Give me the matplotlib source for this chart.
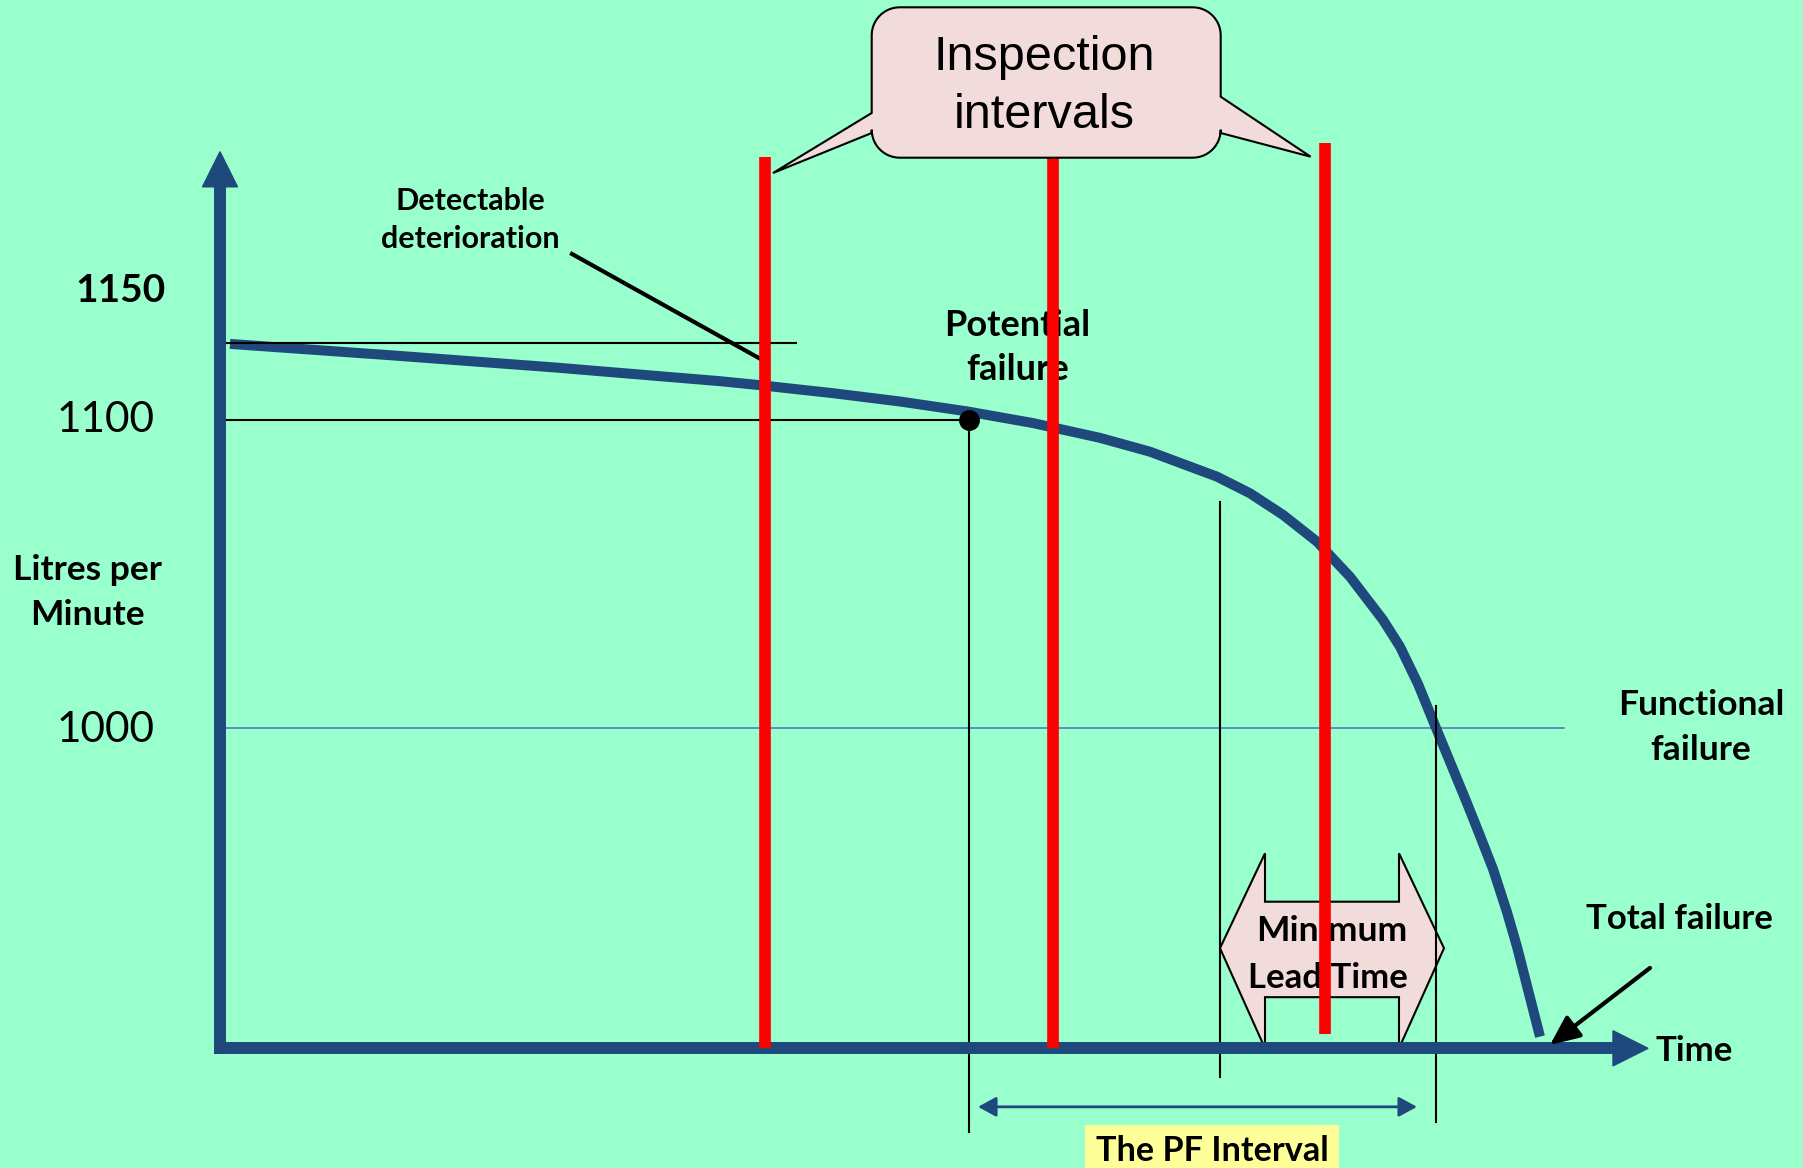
import numpy as np
import matplotlib.pyplot as plt
from matplotlib.patches import Polygon, Rectangle
from matplotlib.transforms import Affine2D

# pump output against time (time in arbitrary units)
time = [0.10, 1.67, 3.33, 5.00, 5.40, 6.13, 6.80, 7.47, 8.13, 8.80,
        9.30, 9.97, 10.30, 10.63, 10.97, 11.30, 11.63, 11.80, 11.98, 12.16,
        12.30, 12.47, 12.60, 12.73, 12.87, 12.97, 13.08, 13.20]
flow = [1124.7, 1121.1, 1117.1, 1112.6, 1111.3, 1108.7, 1106.0, 1102.8, 1099.0, 1094.2,
        1089.7, 1081.6, 1076.2, 1069.2, 1060.5, 1049.1, 1035.1, 1026.4, 1014.3, 1000.0,
        989.0, 975.6, 965.0, 954.2, 940.2, 929.0, 915.0, 899.8]

inspections = [5.45, 8.33, 11.05]
detect_level = 1125
potential_time = 7.49
potential_level = 1100
functional_time = 12.16
functional_level = 1000
lead_start = 10.0
tick_values = [1150, 1100, 1000]

# layout
W, H = 1803, 1168
BG = '#99ffcc'
NAVY = '#1f497d'
PINK = '#f2dcdb'
base = 896           # flow value where the time axis sits
red_top = [1185.3, 1185.3, 1190.0]
red_bottom = [896, 896, 900.5]
bold = ['Lato', 'DejaVu Sans']

fig = plt.figure(figsize=(W / 100, H / 100), dpi=100)
fig.patch.set_facecolor(BG)
ax = fig.add_axes([0, 0, 1, 1])
ax.set_xlim(-2.2, 15.83)
ax.set_ylim(857.14, 1236.36)
ax.axis('off')

# pixel coordinates, origin top-left, for the annotations
px = Affine2D().scale(1 / W, -1 / H).translate(0, 1) + fig.transFigure


def label(x, y, s, size, weight='bold', family=bold, ha='center', z=3):
    ax.text(x, y + 3, s, transform=px, ha=ha, va='center', fontsize=size,
            fontweight=weight, family=family, zorder=z)


# axes with arrow heads
ax.plot([0, 0], [base, 1175.7], color=NAVY, lw=8.6, solid_capstyle='projecting', zorder=4)
ax.add_patch(Polygon([(-0.175, 1175.7), (0.175, 1175.7), (0, 1187.1)],
                     closed=True, color=NAVY, zorder=4))
ax.plot([0, 13.93], [base, base], color=NAVY, lw=8.6, solid_capstyle='projecting', zorder=4)
ax.add_patch(Polygon([(13.93, base - 5.7), (13.93, base + 5.7), (14.28, base)],
                     closed=True, color=NAVY, zorder=4))

# deterioration curve
ax.plot(time, flow, color=NAVY, lw=7.2, solid_capstyle='butt',
        solid_joinstyle='round', zorder=2)

# reference levels
ax.plot([0.04, 5.76], [detect_level] * 2, color='black', lw=1.5, zorder=3)
ax.plot([0.04, potential_time], [potential_level] * 2, color='black', lw=1.5, zorder=3)
ax.plot([0.04, 13.44], [functional_level] * 2, color='#4a72c0', lw=1.1, zorder=1.5)
ax.plot([potential_time] * 2, [potential_level, 868.8], color='black', lw=1.5, zorder=3)
ax.plot([lead_start] * 2, [1073.4, 886.7], color='black', lw=1.5, zorder=3)
ax.plot([functional_time] * 2, [1007.1, 872.2], color='black', lw=1.5, zorder=3)
ax.plot(potential_time, potential_level, 'o', ms=14, color='black', zorder=4.5)

# inspection times
for t, top, bot in zip(inspections, red_top, red_bottom):
    ax.plot([t, t], [bot, top], color='red', lw=8.4, solid_capstyle='butt', zorder=4)

# minimum lead time double arrow
mid, h_top, h_bot, s_top, s_bot = 928.5, 959.3, 896.0, 943.6, 912.6
lb, rb, rt = lead_start + 0.45, 11.79, 12.24
ax.add_patch(Polygon([(lead_start, mid), (lb, h_top), (lb, s_top), (rb, s_top), (rb, h_top),
                      (rt, mid), (rb, h_bot), (rb, s_bot), (lb, s_bot), (lb, h_bot)],
                     closed=True, fc=PINK, ec='black', lw=1.5, zorder=2.5))
label(1332, 928, 'Minimum', 25.5)
label(1328, 975, 'Lead Time', 25)

# PF interval
ax.annotate('', xy=(11.97, 877), xytext=(7.58, 877),
            arrowprops=dict(arrowstyle='<|-|>,head_length=1.1,head_width=0.6',
                            color=NAVY, lw=2, shrinkA=0, shrinkB=0), zorder=3)
ax.add_patch(Rectangle((1085, 1125), 254, 50, transform=px, fc='#ffff99', ec='none', zorder=2))
label(1212, 1148, 'The PF Interval', 24.7)

# total failure pointer
ax.annotate('', xy=(13.30, 897.1), xytext=(14.30, 922.1),
            arrowprops=dict(arrowstyle='-|>,head_length=0.9,head_width=0.4', mutation_scale=20,
                            color='black', lw=3, shrinkA=0, shrinkB=0), zorder=5)
label(1679, 916, 'Total failure', 25)
label(1655, 1048, 'Time', 25, ha='left')

# detectable deterioration pointer
ax.plot([3.52, 5.39], [1153.9, 1120.1], color='black', lw=3, zorder=3)
label(470, 198, 'Detectable', 22)
label(470, 236, 'deterioration', 22)

label(1017, 322, 'Potential', 26)
label(1018, 367, 'failure', 26)
label(1701, 702, 'Functional', 25.5)
label(1701, 747, 'failure', 25.5)

# axis labels
label(87, 567, 'Litres per', 25.5)
label(87, 612, 'Minute', 25.5)
label(121, 287, str(tick_values[0]), 28)
label(106, 417, str(tick_values[1]), 30.5, weight='normal')
label(106, 727, str(tick_values[2]), 30.5, weight='normal')

# "Inspection intervals" callout
x0, y0, x1, y1, r = 871.7, 7.3, 1220.7, 157.7, 28


def arc(cx, cy, a0, a1):
    a = np.radians(np.linspace(a0, a1, 14))
    return list(zip(cx + r * np.cos(a), cy + r * np.sin(a)))


pts = arc(x0 + r, y0 + r, 180, 270) + arc(x1 - r, y0 + r, 270, 360)
pts += [(x1, 96.7), (1310.6, 156.7), (x1, 133)]
pts += arc(x1 - r, y1 - r, 0, 90) + arc(x0 + r, y1 - r, 90, 180)
pts += [(x0, 133), (773, 173), (x0, 113)]
ax.add_patch(Polygon(pts, closed=True, transform=px, fc=PINK, ec='black', lw=1.5, zorder=5))
label(1044, 54, 'Inspection', 35, weight='normal', family=['Liberation Sans'], z=6)
label(1044, 113, 'intervals', 35, weight='normal', family=['Liberation Sans'], z=6)

fig.savefig('out.png', dpi=100, facecolor=fig.get_facecolor())
